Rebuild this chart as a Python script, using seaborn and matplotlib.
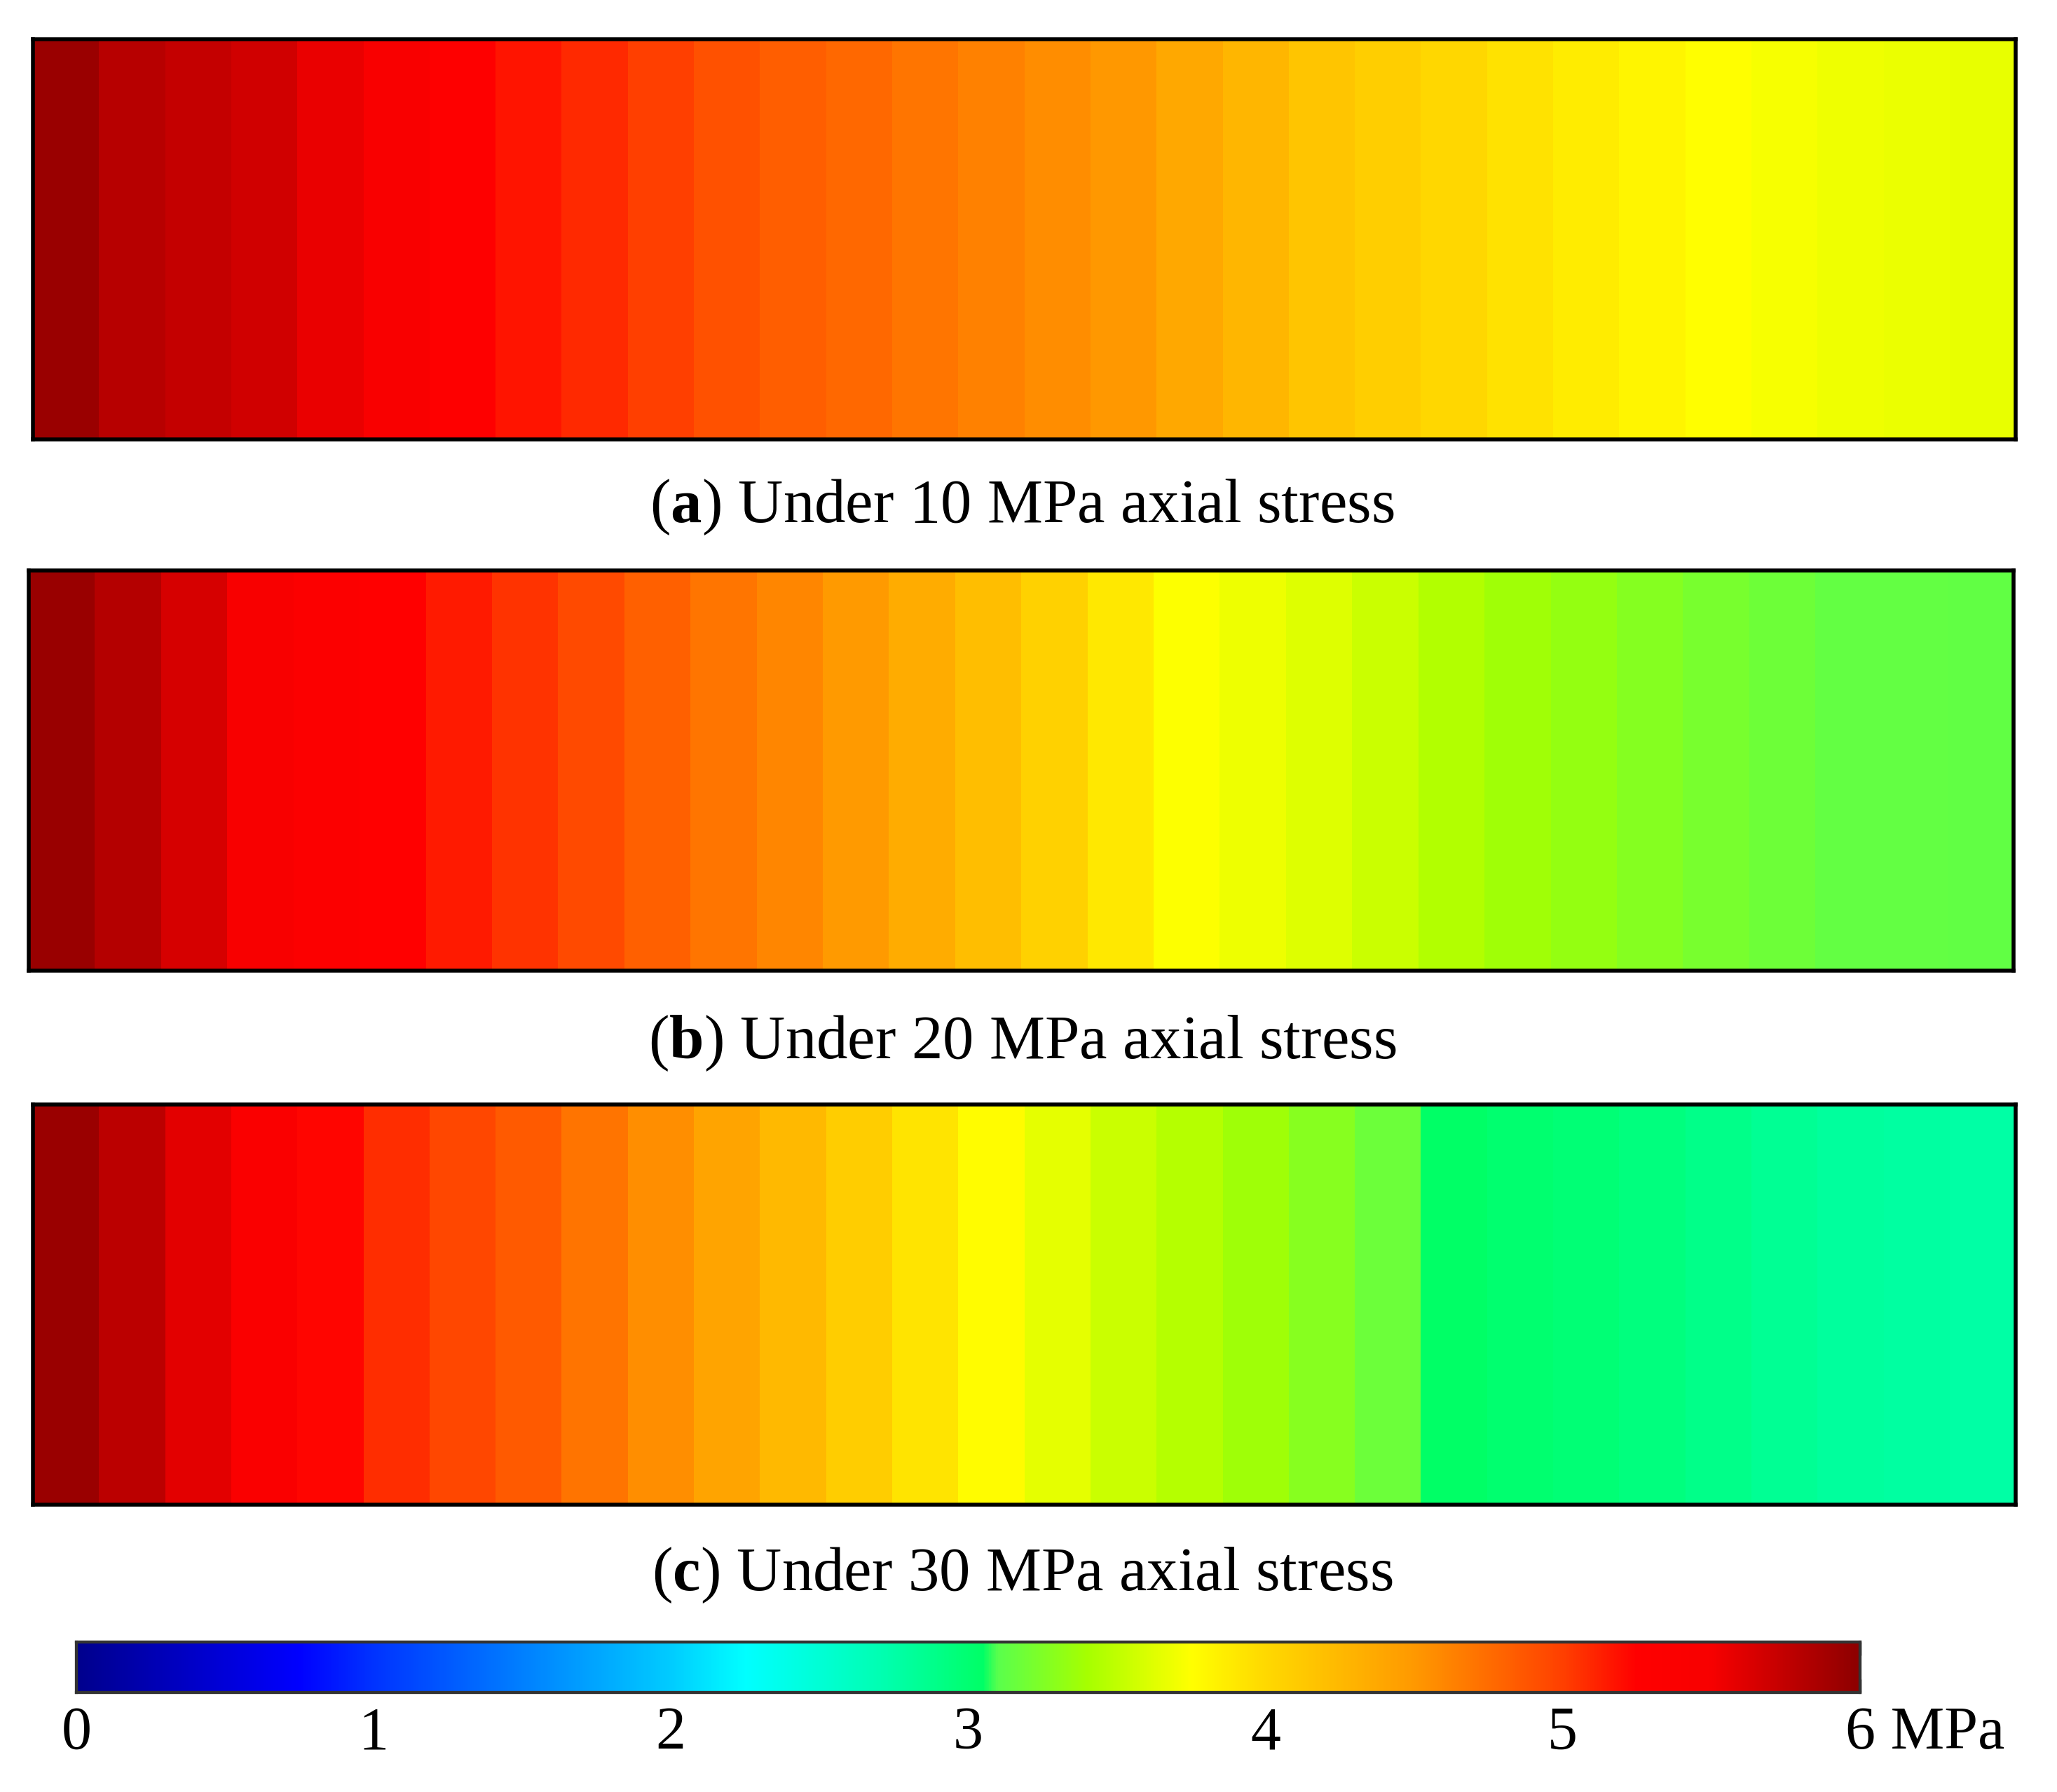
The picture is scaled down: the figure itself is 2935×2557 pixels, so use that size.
import numpy as np
import matplotlib
matplotlib.use("Agg")
import matplotlib.pyplot as plt
from matplotlib.colors import LinearSegmentedColormap
from matplotlib.transforms import ScaledTranslation
import seaborn as sns

# =========================
# 1. DATA (stress along the sample, MPa, 30 cells left -> right)
# =========================
stress_10mpa = [5.93, 5.80, 5.74, 5.68, 5.56, 5.43, 5.27, 5.17, 5.09, 5.00,
                4.90, 4.83, 4.77, 4.70, 4.63, 4.57, 4.50, 4.38, 4.27, 4.15,
                4.08, 4.01, 3.94, 3.87, 3.81, 3.76, 3.72, 3.69, 3.67, 3.66]
stress_20mpa = [5.94, 5.81, 5.65, 5.47, 5.34, 5.25, 5.15, 5.05, 4.94, 4.82,
                4.70, 4.60, 4.49, 4.35, 4.21, 4.06, 3.90, 3.74, 3.68, 3.62,
                3.54, 3.45, 3.38, 3.33, 3.27, 3.22, 3.18, 3.14, 3.135, 3.13]
stress_30mpa = [5.93, 5.78, 5.59, 5.40, 5.23, 5.07, 4.96, 4.85, 4.71, 4.56,
                4.41, 4.25, 4.09, 3.93, 3.77, 3.65, 3.54, 3.46, 3.37, 3.28,
                3.17, 3.05, 3.01, 2.98, 2.94, 2.89, 2.84, 2.80, 2.78, 2.76]

panel_letters = ["a", "b", "c"]
panel_texts = ["Under 10 MPa axial stress", "Under 20 MPa axial stress",
               "Under 30 MPa axial stress"]
cbar_ticks = [0, 1, 2, 3, 4, 5, 6]
cbar_labels = ["0", "1", "2", "3", "4", "5", "6 MPa"]

# colour scale (value, colour)
scale_values = [0.0, 0.75, 1.0, 1.5, 2.0, 2.25, 2.7, 3.05, 3.1, 3.4, 3.75,
                4.0, 4.5, 5.0, 5.25, 5.5, 6.0]
scale_colors = [(0, 0, 0.55), (0, 0, 1), (0, 0.2, 1), (0, 0.5, 1), (0, 0.8, 1),
                (0, 1, 1), (0, 1, 0.7), (0, 1, 0.4), (0.35, 1, 0.3),
                (0.65, 1, 0), (1, 1, 0), (1, 0.85, 0), (1, 0.6, 0),
                (1, 0.25, 0), (1, 0, 0), (0.97, 0, 0), (0.55, 0, 0)]

# =========================
# 2. STYLE
# =========================
sns.set_theme(style="white")
plt.rcParams["font.family"] = ["Liberation Serif", "DejaVu Serif"]
plt.rcParams["text.color"] = "black"
plt.rcParams["xtick.color"] = "black"
plt.rcParams["mathtext.fontset"] = "custom"
plt.rcParams["mathtext.rm"] = "Liberation Serif"
plt.rcParams["mathtext.bf"] = "Liberation Serif:bold"

vmin, vmax = 0, 6
cmap = LinearSegmentedColormap.from_list(
    "stress", [((v - vmin) / (vmax - vmin), c) for v, c in zip(scale_values, scale_colors)], N=1024)

# =========================
# 3. PLOT
# =========================
fig = plt.figure(figsize=(29.35, 25.57), dpi=100)

panel_boxes = [[0.016, 0.7548, 0.964, 0.2233],
               [0.014, 0.4583, 0.965, 0.2233],
               [0.016, 0.1603, 0.964, 0.2233]]
label_y = [0.717, 0.418, 0.121]
cax = fig.add_axes([0.0371, 0.0555, 0.8671, 0.0282])

for i, values in enumerate([stress_10mpa, stress_20mpa, stress_30mpa]):
    ax = fig.add_axes(panel_boxes[i])
    last = i == 2
    sns.heatmap(np.array([values]), ax=ax, cmap=cmap, vmin=vmin, vmax=vmax,
                xticklabels=False, yticklabels=False,
                cbar=last, cbar_ax=cax if last else None,
                cbar_kws={"orientation": "horizontal"} if last else None)
    for sp in ax.spines.values():
        sp.set_visible(True)
        sp.set_color("black")
        sp.set_linewidth(4)
    fig.text(0.497, label_y[i], rf"($\mathbf{{{panel_letters[i]}}}$) {panel_texts[i]}",
             ha="center", va="center", fontsize=64, color="black")

# colour bar
cax.set_xticks(cbar_ticks)
cax.set_xticklabels(cbar_labels)
cax.tick_params(axis="x", which="both", direction="in", length=14, width=2.5,
                color="#222222", labelcolor="black", top=True, bottom=True,
                labelsize=62, pad=14)
for sp in cax.spines.values():
    sp.set_visible(True)
    sp.set_color("#333333")
    sp.set_linewidth(3)
last_lab = cax.get_xticklabels()[-1]
last_lab.set_horizontalalignment("left")
last_lab.set_transform(last_lab.get_transform() + ScaledTranslation(-15 / 72, 0, fig.dpi_scale_trans))

fig.savefig("out.png", dpi=100, facecolor="white")
